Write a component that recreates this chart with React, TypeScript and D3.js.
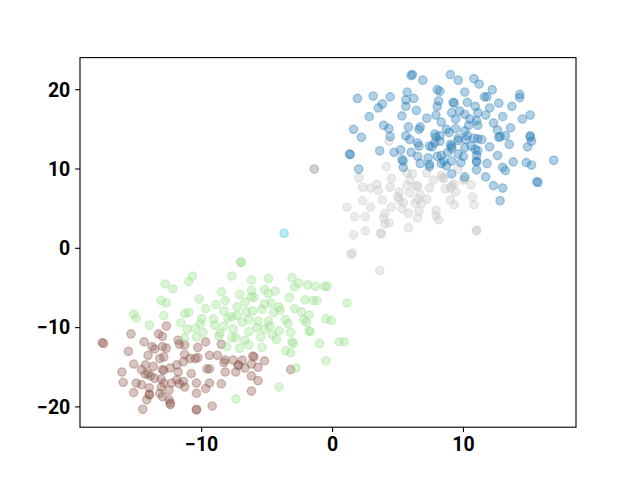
import React from 'react';
import * as d3 from 'd3';

// cluster points, [x, y]
const blue: [number, number][] = [
  [6.1,21.9],[6.0,21.8],[6.9,21.2],[1.9,18.9],[3.1,19.2],[4.4,19.1],[3.8,18.2],[3.5,17.7],[2.8,16.6],[5.7,19.7],[6.2,18.9],[5.6,18.7],[5.6,17.9],[6.4,17.4],[5.3,16.7],[7.2,16.4],[8.0,20.0],[8.2,19.8],[8.1,18.6],[8.0,17.9],[7.9,16.8],[8.3,15.9],[3.9,15.5],[4.3,15.1],[5.8,15.3],[6.7,15.3],[6.6,15.0],[1.6,15.0],[2.2,14.0],[4.4,14.1],[5.6,14.2],[5.9,13.7],[6.5,13.3],[6.6,12.9],[7.8,14.4],[8.2,14.2],[8.7,15.0],[7.8,13.3],[7.6,12.8],[7.4,12.9],[8.2,13.5],[1.3,11.9],[1.35,11.8],[3.6,12.3],[4.7,12.1],[5.2,12.4],[6.0,12.1],[6.5,11.6],[7.3,11.4],[8.0,11.6],[8.3,11.7],[5.3,11.2],[6.7,10.7],[7.4,10.6],[8.3,10.7],[5.4,10.2],[2.0,10.0],[5.4,11.0],[7.4,10.3],[9.1,9.4],[10.1,9.0],[11.0,9.9],[11.7,9.0],[11.0,10.9],
  [9.0,21.9],[9.6,21.2],[10.8,21.4],[11.2,20.7],[10.1,19.7],[12.2,20.0],[11.6,19.1],[11.8,19.1],[14.3,19.4],[14.3,19.0],[9.2,18.4],[10.3,18.4],[10.9,17.9],[12.7,18.3],[12.0,17.7],[13.7,17.9],[9.1,17.1],[9.7,17.3],[10.1,16.9],[11.1,17.1],[11.7,16.8],[9.4,16.3],[10.5,16.3],[11.0,16.1],[13.0,16.6],[14.5,16.3],[15.1,16.8],[12.3,15.8],[10.4,15.5],[11.1,15.5],[13.6,15.2],[12.6,14.9],[9.4,15.1],[10.1,14.8],[10.3,14.2],[9.6,13.9],[10.8,13.9],[11.1,13.8],[11.4,13.7],[12.7,14.0],[12.8,14.1],[13.2,14.2],[15.1,14.2],[15.1,14.0],[15.2,13.5],[13.5,13.1],[12.0,12.8],[14.9,12.8],[9.0,13.1],[9.1,12.6],[10.1,12.7],[10.9,12.5],[9.6,11.9],[10.0,11.6],[11.0,11.7],[12.6,11.7],[16.9,11.1],[9.1,11.0],[9.8,10.8],[11.0,11.0],[11.8,10.7],[13.8,10.9],[14.8,10.8],[15.2,10.5],[13.0,10.2],[13.2,9.8],[15.6,8.4],[15.7,8.3],[12.3,7.9],[13.0,7.6],[12.8,6.0],
  [9.3,18.3],[8.9,14.6],[7.9,14.0],[9.1,12.9],[9.6,13.6],[10.2,13.7],[10.6,12.9],[8.8,12.1],[8.5,11.0],[8.7,10.4],[11.1,12.3],
];

const gray: [number, number][] = [
  [4.1,10.3],[2.0,8.9],[4.5,8.8],[3.4,8.1],[2.3,7.7],[2.9,7.6],[3.5,7.3],[4.4,7.7],[5.7,9.5],[6.1,9.4],[5.9,8.6],[6.4,7.9],[6.5,7.8],[5.7,7.9],[5.1,7.1],[5.9,7.0],[7.4,7.6],[7.7,8.6],[7.2,9.5],[8.4,8.9],[8.5,8.8],[8.6,7.5],[9.0,7.6],[9.3,8.1],[9.4,7.1],[10.0,8.6],[10.6,8.0],[10.7,6.5],[1.1,5.2],[2.3,6.0],[2.9,5.2],[3.8,6.1],[5.0,6.5],[5.1,6.1],[5.4,5.8],[4.5,5.2],[5.3,5.0],[6.3,5.7],[6.5,6.2],[6.7,6.8],[7.2,6.2],[6.8,5.6],[6.6,4.7],[5.8,4.4],[6.5,3.8],[9.0,6.1],[9.3,5.5],[10.8,5.5],[7.9,4.8],[7.9,4.1],[8.1,3.6],[1.7,4.0],[2.5,4.0],[4.0,4.4],[4.0,3.1],[4.3,3.2],[2.5,2.2],[1.6,1.7],[3.7,1.8],[3.7,1.9],[5.8,2.6],[11.0,2.2],[11.0,2.3],[1.5,-0.6],[1.4,-0.8],[3.6,-2.8],[4.3,13.5],[8.3,9.2],[3.9,3.8],[9.6,10.0],[10.1,8.7],[9.1,7.9],
];

const green: [number, number][] = [
  [-10.7,-3.5],[-11.0,-4.2],[-7.7,-3.5],[-12.8,-4.5],[-12.2,-5.1],[-13.1,-6.6],[-12.7,-6.9],[-10.2,-6.4],[-8.5,-5.5],[-15.2,-8.3],[-15.0,-8.8],[-12.9,-8.5],[-11.3,-8.2],[-11.0,-8.1],[-9.7,-7.6],[-8.9,-7.1],[-8.2,-6.6],[-8.3,-7.9],[-14.0,-9.7],[-11.6,-9.4],[-10.0,-8.9],[-9.1,-8.9],[-8.0,-8.8],[-7.7,-8.6],[-11.1,-10.2],[-10.5,-10.1],[-10.1,-9.5],[-9.9,-10.6],[-9.0,-9.7],[-8.6,-10.7],[-8.3,-9.8],[-11.3,-11.3],[-10.4,-11.2],[-8.7,-11.1],[-8.1,-12.4],[-7.7,-11.3],
  [-7.0,-1.7],[-7.0,-1.8],[-6.2,-4.0],[-4.9,-3.8],[-3.1,-3.7],[-2.6,-4.4],[-1.9,-4.6],[-1.3,-4.8],[-0.6,-4.8],[-0.4,-4.8],[-6.2,-5.3],[-5.2,-5.2],[-4.9,-5.7],[-4.4,-5.4],[-2.9,-4.9],[-7.1,-5.8],[-6.2,-6.1],[-6.0,-6.2],[-6.7,-6.8],[-3.3,-6.2],[-2.1,-6.5],[-1.5,-6.6],[-1.2,-6.6],[1.1,-6.9],[-7.3,-7.4],[-6.6,-8.0],[-6.1,-7.9],[-5.2,-7.0],[-4.7,-6.9],[-5.4,-7.7],[-4.1,-7.4],[-4.0,-7.8],[-4.5,-8.1],[-2.9,-7.6],[-2.4,-8.0],[-1.8,-8.4],[-7.3,-8.5],[-6.9,-9.3],[-6.4,-9.0],[-5.7,-9.2],[-4.9,-9.2],[-3.6,-9.0],[-3.4,-9.5],[-2.2,-9.0],[-2.0,-9.3],[-0.5,-8.9],[-0.1,-9.1],[-7.6,-10.2],[-6.4,-10.5],[-5.8,-10.0],[-5.2,-10.2],[-4.8,-9.8],[-4.1,-10.4],[-3.2,-10.6],[-1.8,-10.4],[-1.7,-10.5],[-6.7,-11.6],[-7.4,-11.3],[-5.5,-11.2],[-4.6,-10.9],[-4.3,-11.5],[-3.1,-11.8],[-3.0,-12.0],[-1.0,-12.0],[0.5,-11.8],[0.9,-11.8],[-7.1,-12.6],[-5.4,-12.5],[-3.6,-12.9],[-3.2,-13.2],[-0.5,-14.2],[-2.8,-15.1],[-4.1,-17.5],[-7.4,-19.0],[-6.4,-12.2],
];

const brown: [number, number][] = [
  [-17.6,-11.9],[-17.5,-12.0],[-15.4,-10.8],[-14.4,-11.8],[-13.3,-10.8],[-12.7,-9.8],[-13.0,-11.1],[-15.6,-13.0],[-13.8,-12.4],[-13.6,-12.7],[-13.0,-12.4],[-12.7,-12.6],[-11.8,-11.6],[-11.7,-12.1],[-11.3,-12.2],[-14.1,-13.5],[-13.2,-13.9],[-12.9,-13.7],[-15.2,-14.6],[-14.3,-14.7],[-13.7,-14.9],[-13.0,-15.3],[-12.9,-15.4],[-12.4,-15.1],[-11.9,-14.7],[-11.4,-14.3],[-11.3,-13.4],[-10.9,-13.9],[-10.5,-13.9],[-10.3,-12.5],[-16.1,-15.6],[-14.6,-15.3],[-14.3,-15.9],[-11.8,-15.6],[-10.8,-15.8],[-16.0,-16.9],[-15.0,-17.0],[-14.6,-17.2],[-13.6,-16.4],[-13.1,-16.5],[-12.9,-17.0],[-12.3,-17.0],[-11.9,-16.6],[-11.7,-17.1],[-11.4,-16.8],[-11.3,-17.5],[-14.0,-17.6],[-13.1,-17.5],[-15.2,-18.2],[-14.0,-18.4],[-14.0,-18.5],[-13.2,-18.3],[-12.5,-17.9],[-14.2,-19.1],[-12.5,-19.1],[-12.4,-19.5],[-12.4,-19.7],[-14.5,-20.3],[-10.4,-20.3],[-10.4,-20.4],
  [-9.7,-11.8],[-8.5,-12.1],[-10.3,-13.8],[-9.4,-13.5],[-8.8,-13.5],[-8.2,-14.1],[-8.3,-14.4],[-6.9,-14.1],[-6.0,-13.7],[-6.1,-13.6],[-5.2,-14.2],[-7.2,-14.7],[-7.2,-14.8],[-6.7,-15.1],[-6.2,-14.6],[-5.7,-15.0],[-9.6,-15.2],[-9.4,-15.2],[-8.2,-15.6],[-7.4,-15.6],[-6.2,-16.1],[-5.7,-16.7],[-3.2,-15.3],[-10.4,-17.0],[-9.4,-17.0],[-8.5,-17.1],[-9.7,-17.7],[-6.2,-18.0],[-10.4,-18.3],[-9.2,-19.9],[-13.0,-18.7],[-13.9,-16.1],[-14.1,-15.8],[-7.6,-14.1],
];

const cyanPts: [number, number][] = [[-3.7, 1.9]];
const darkGrayPts: [number, number][] = [[-1.4, 10.0]];

const groups = [
  { pts: brown, color: '#8c564b', alpha: 0.35 },
  { pts: green, color: '#98df8a', alpha: 0.35 },
  { pts: gray, color: '#c7c7c7', alpha: 0.35 },
  { pts: blue, color: '#1f77b4', alpha: 0.35 },
  { pts: cyanPts, color: '#17becf', alpha: 0.3 },
  { pts: darkGrayPts, color: '#7f7f7f', alpha: 0.35 },
];

const xDomain = [-19.3, 18.6];
const yDomain = [-22.56, 24.05];

const fmt = (v: number) => (v < 0 ? '\u2212' + Math.abs(v) : String(v));

const App = () => {
  const width = 640;
  const height = 480;
  const margin = { top: 57.6, right: 64, bottom: 52.8, left: 80 };

  const x = d3.scaleLinear().domain(xDomain).range([margin.left, width - margin.right]);
  const y = d3.scaleLinear().domain(yDomain).range([height - margin.bottom, margin.top]);

  const tickLen = 4.86;
  const pad = 4.86;
  const fontStyle = { fontFamily: 'Roboto, "Liberation Sans", sans-serif', fontWeight: 700, fontSize: '19.5px' };

  return (
    <svg width={width} height={height} style={{ position: 'absolute', left: 0, top: 0, background: '#fff' }}>
      <g>
        {groups.map((g, gi) =>
          g.pts.map((d, i) => (
            <circle
              key={gi + '-' + i}
              cx={x(d[0])}
              cy={y(d[1])}
              r={4.17}
              fill={g.color}
              fillOpacity={g.alpha}
              stroke={g.color}
              strokeOpacity={g.alpha}
              strokeWidth={1.39}
            />
          ))
        )}
      </g>
      <rect
        x={margin.left}
        y={margin.top}
        width={width - margin.left - margin.right}
        height={height - margin.top - margin.bottom}
        fill="none"
        stroke="#000"
        strokeWidth={1.11}
      />
      <g className="x-axis">
        {x.ticks(3).map(t => (
          <g key={t} transform={`translate(${x(t)},${height - margin.bottom})`}>
            <line y2={tickLen} stroke="#000" strokeWidth={1.11} />
            <text y={tickLen + pad} dy="0.71em" textAnchor="middle" style={fontStyle}>{fmt(t)}</text>
          </g>
        ))}
      </g>
      <g className="y-axis">
        {y.ticks(5).map(t => (
          <g key={t} transform={`translate(${margin.left},${y(t)})`}>
            <line x2={-tickLen} stroke="#000" strokeWidth={1.11} />
            <text x={-tickLen - pad} dy="0.35em" textAnchor="end" style={fontStyle}>{fmt(t)}</text>
          </g>
        ))}
      </g>
    </svg>
  );
};

export default App;
